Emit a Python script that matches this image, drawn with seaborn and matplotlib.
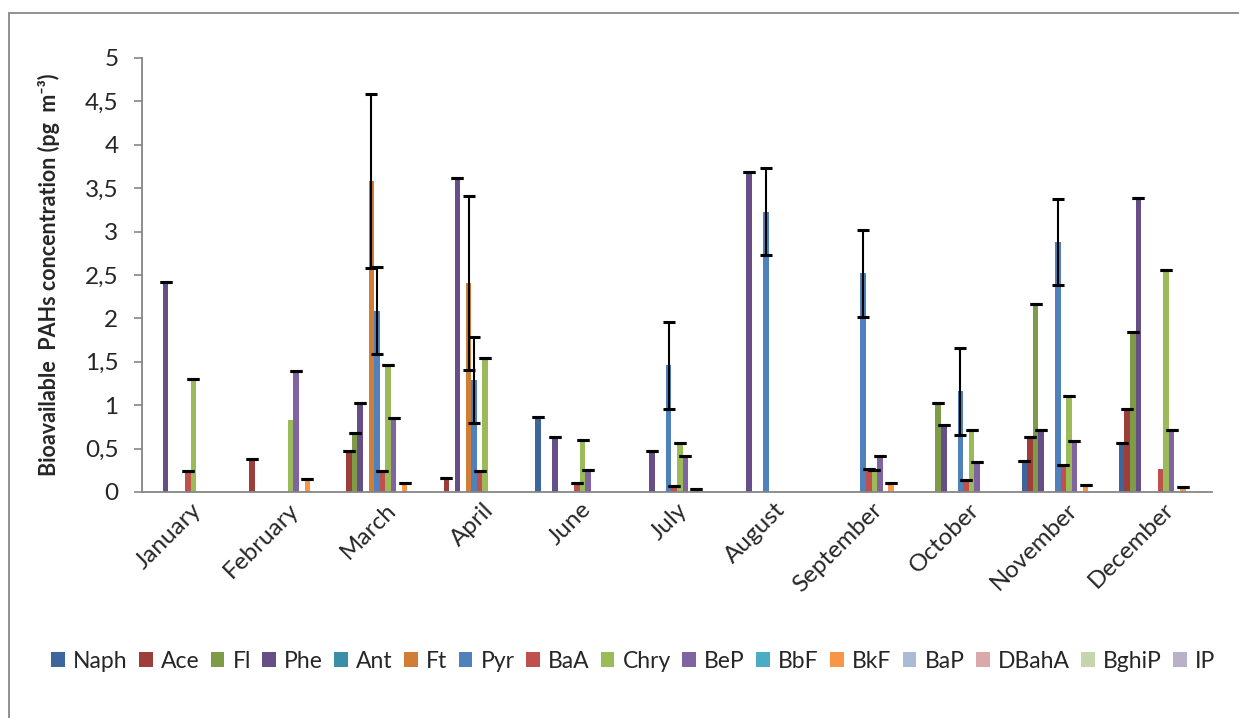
import numpy as np
import pandas as pd
import matplotlib
matplotlib.use("Agg")
import matplotlib.pyplot as plt
import seaborn as sns
from matplotlib.lines import Line2D
from matplotlib.ticker import FuncFormatter, MultipleLocator, FixedLocator

nan = np.nan

months = ["January", "February", "March", "April", "June", "July",
          "August", "September", "October", "November", "December"]
compounds = ["Naph", "Ace", "Fl", "Phe", "Ant", "Ft", "Pyr", "BaA",
             "Chry", "BeP", "BbF", "BkF", "BaP", "DBahA", "BghiP", "IP"]

# monthly mean concentrations (pg m-3), NaN = not detected
naph = [nan, nan, nan, nan, 0.86, nan, nan, nan, nan, 0.36, 0.56]
ace = [nan, 0.38, 0.47, 0.165, nan, nan, nan, nan, nan, 0.63, 0.96]
fl = [nan, nan, 0.68, nan, nan, nan, nan, nan, 1.03, 2.17, 1.84]
phe = [2.42, nan, 1.03, 3.62, 0.63, 0.47, 3.69, nan, 0.77, 0.71, 3.39]
ant = [nan] * 11
ft = [nan, nan, 3.58, 2.41, nan, nan, nan, nan, nan, nan, nan]
pyr = [nan, nan, 2.09, 1.29, nan, 1.46, 3.23, 2.52, 1.16, 2.88, nan]
baa = [0.24, nan, 0.24, 0.245, 0.107, 0.07, nan, 0.27, 0.14, 0.31, 0.27]
chry = [1.30, 0.83, 1.46, 1.54, 0.595, 0.56, nan, 0.25, 0.71, 1.11, 2.56]
bep = [nan, 1.39, 0.85, nan, 0.257, 0.41, nan, 0.41, 0.35, 0.59, 0.71]
bbf = [nan] * 11
bkf = [nan, 0.146, 0.10, nan, nan, 0.035, nan, 0.10, nan, 0.08, 0.06]
bap = [nan] * 11
dbaha = [nan] * 11
bghip = [nan] * 11
ip = [nan] * 11

# standard deviations (NaN = no error bar drawn)
naph_err = [nan, nan, nan, nan, 0, nan, nan, nan, nan, 0, 0]
ace_err = [nan, 0, 0, 0, nan, nan, nan, nan, nan, 0, 0]
fl_err = [nan, nan, 0, nan, nan, nan, nan, nan, 0, 0, 0]
phe_err = [0, nan, 0, 0, 0, 0, 0, nan, 0, 0, 0]
ft_err = [nan, nan, 1.0, 1.0, nan, nan, nan, nan, nan, nan, nan]
pyr_err = [nan, nan, 0.5, 0.5, nan, 0.5, 0.5, 0.5, 0.5, 0.5, nan]
baa_err = [0, nan, 0, 0, 0, 0, nan, 0, 0, 0, nan]
chry_err = [0, nan, 0, 0, 0, 0, nan, 0, 0, 0, 0]
bep_err = [nan, 0, 0, nan, 0, 0, nan, 0, 0, 0, 0]
bkf_err = [nan, 0, 0, nan, nan, 0, nan, 0, nan, 0, 0]
none_err = [nan] * 11

values = [naph, ace, fl, phe, ant, ft, pyr, baa, chry, bep, bbf, bkf,
          bap, dbaha, bghip, ip]
errors = [naph_err, ace_err, fl_err, phe_err, none_err, ft_err, pyr_err,
          baa_err, chry_err, bep_err, none_err, bkf_err, none_err,
          none_err, none_err, none_err]

colors = ["#3D679C", "#9E3E3B", "#7E9B45", "#654F86", "#3A8EA5", "#D07D35",
          "#4F81BD", "#C0504D", "#9BBB59", "#8064A2", "#4BACC6", "#F79646",
          "#AABAD7", "#D9AAA9", "#C6D6AC", "#BAB0C9"]

rows = []
for comp, vals in zip(compounds, values):
    for m, v in zip(months, vals):
        rows.append({"month": m, "compound": comp,
                     "value": 0.0 if np.isnan(v) else v})
df = pd.DataFrame(rows)

sns.set_style("white")
plt.rcParams["font.family"] = ["Lato", "DejaVu Sans"]

fig = plt.figure(figsize=(12.39, 7.18), dpi=100)
ax = fig.add_axes([142 / 1239, 1 - 492 / 718, 1070 / 1239, 434 / 718])

sns.barplot(data=df, x="month", y="value", hue="compound",
            order=months, hue_order=compounds, palette=colors,
            errorbar=None, width=0.914, gap=0, linewidth=0,
            saturation=1, ax=ax)

# error bars placed on the drawn bars
ex, ey, ee = [], [], []
for k, cont in enumerate(ax.containers):
    for patch in cont:
        cx = patch.get_x() + patch.get_width() / 2
        j = int(round(cx))
        e = errors[k][j]
        if not np.isnan(e) and not np.isnan(values[k][j]):
            ex.append(cx)
            ey.append(patch.get_height())
            ee.append(e)
ax.errorbar(ex, ey, yerr=ee, fmt="none", ecolor="black", elinewidth=1.5,
            capsize=4.3, capthick=2.2, zorder=5)

ax.set_ylim(0, 5)
ax.set_xlim(-0.5, len(months) - 0.5)
ax.yaxis.set_major_locator(MultipleLocator(0.5))
ax.yaxis.set_major_formatter(FuncFormatter(lambda v, p: f"{v:g}".replace(".", ",")))

ax.xaxis.set_minor_locator(FixedLocator(np.arange(-0.5, len(months), 1.0)))
ax.tick_params(axis="x", which="major", length=0, pad=5, labelsize=17.5)
ax.tick_params(axis="x", which="minor", length=6, width=1.2, color="#868686",
               direction="out")
ax.tick_params(axis="y", length=6, width=1.2, color="#868686",
               direction="out", labelsize=17.5, pad=11, left=True)
for lab in ax.get_xticklabels():
    lab.set_rotation(45)
    lab.set_ha("right")
    lab.set_rotation_mode("anchor")

for side in ["top", "right"]:
    ax.spines[side].set_visible(False)
for side in ["left", "bottom"]:
    ax.spines[side].set_color("#868686")
    ax.spines[side].set_linewidth(1.3)

ax.set_xlabel("")
ax.set_ylabel("Bioavailable  PAHs concentration (pg  m⁻³)",
              fontsize=15.5, fontweight="bold")
ax.yaxis.set_label_coords(-0.077, 0.5)

leg = ax.legend(loc="center", bbox_to_anchor=(0.511, 1 - 661 / 718),
                bbox_transform=fig.transFigure, ncol=16, frameon=False,
                fontsize=16.5, handlelength=0.6, handleheight=0.6,
                handletextpad=0.35, columnspacing=0.5, borderaxespad=0)

# chart area border
fig.add_artist(Line2D([9 / 1239, 9 / 1239], [0, 1 - 13 / 718],
                      transform=fig.transFigure, color="#898989", lw=1.3))
fig.add_artist(Line2D([9 / 1239, 1], [1 - 13 / 718, 1 - 13 / 718],
                      transform=fig.transFigure, color="#898989", lw=1.3))

fig.savefig("out.png", dpi=100)
